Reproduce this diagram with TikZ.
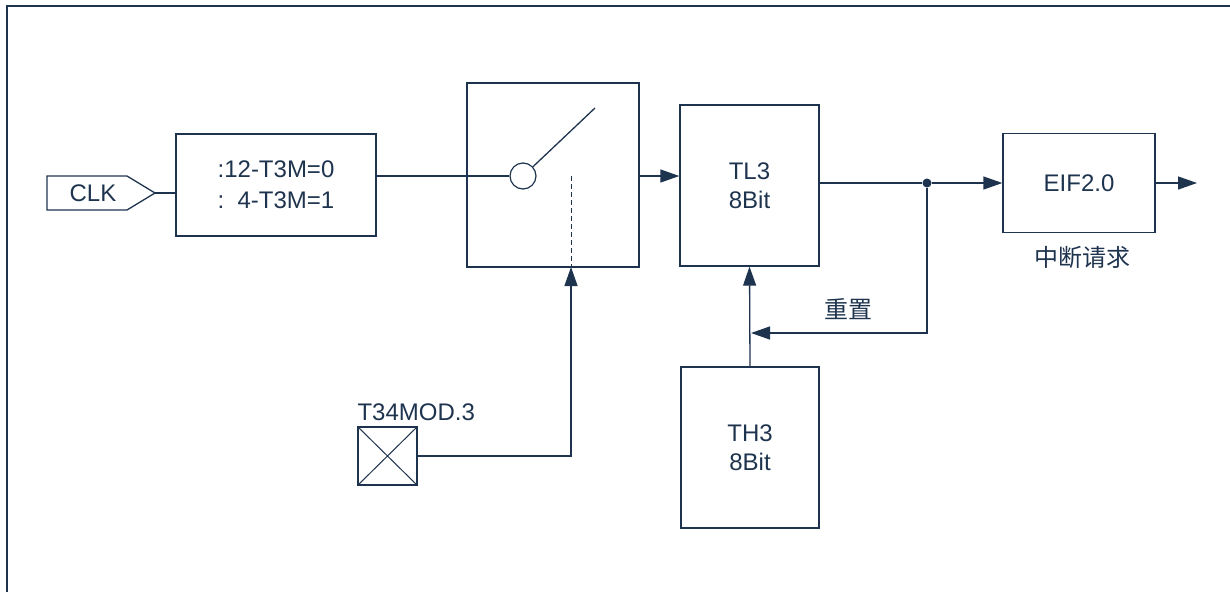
\documentclass[tikz,border=0pt]{standalone}
\usepackage{fontspec}
\setmainfont{Liberation Sans}
\newfontfamily\cjk{Noto Sans CJK SC}
\usetikzlibrary{arrows.meta}
\definecolor{ink}{RGB}{30,52,78}
\begin{document}
\begin{tikzpicture}[x=1pt,y=-1pt,
  every node/.style={text=ink,font=\fontsize{24pt}{29pt}\selectfont},
  box/.style={draw=ink,line width=1.3pt,rectangle,inner sep=0pt,align=center},
  wire/.style={draw=ink,line width=1.3pt},
  arr/.style={wire,-{Triangle[length=19pt,width=13pt]}}]
\useasboundingbox (0,0) rectangle (1230,592);
% frame
\draw[wire] (7,592) -- (7,6) -- (1230,6);
% CLK
\draw[wire] (47,176) -- (127,176) -- (155,193) -- (127,210) -- (47,210) -- cycle;
\node (clk) at (93,193) {CLK};
\coordinate (clktip) at (155,193);
% divider
\node[box,minimum width=200pt,minimum height=102pt,
      font=\fontsize{24pt}{31pt}\selectfont] (div) at (276,185)
      {:12-T3M=0\\:\ \ 4-T3M=1};
\draw[wire] (clktip) -- (clktip -| div.west);
% switch
\node[box,minimum width=172pt,minimum height=184pt] (sw) at (553,175) {};
\node[circle,draw=ink,line width=1.2pt,minimum size=26pt,inner sep=0pt] (circ) at (523,176) {};
\coordinate (swtip) at (595,108);
\coordinate (dtop) at (571,176);
\coordinate (ctl) at (571,267);
\draw[wire] (div.east |- circ.west) -- (circ.west);
\draw[wire] (circ.43) -- (swtip);
\draw[wire,line width=1pt,dashed,dash pattern=on 5pt off 3pt] (dtop) -- (ctl);
% TL3
\node[box,minimum width=139pt,minimum height=161pt] (tl3) at (749.5,185.5) {TL3\\8Bit};
\draw[arr] (sw.east |- circ.west) -- (circ.west -| tl3.west);
% EIF
\node[box,minimum width=152pt,minimum height=99pt] (eif) at (1079,183) {EIF2.0};
\node[font=\cjk\fontsize{24pt}{29pt}\selectfont] (irq) at (1082,257) {中断请求};
\node[circle,fill=ink,inner sep=0pt,minimum size=9pt] (junc) at (927,183) {};
\coordinate (out) at (1197,183);
\draw[wire] (tl3.east |- eif.west) -- (junc);
\draw[arr] (junc) -- (eif.west);
\draw[arr] (eif.east) -- (out);
% TH3
\node[box,minimum width=138pt,minimum height=161pt] (th3) at (750,447.5) {TH3\\8Bit};
\coordinate (rst) at (751,333);
\draw[arr] (th3.north) -- (tl3.south);
\draw[arr] (junc) |- (rst);
\node[font=\cjk\fontsize{24pt}{29pt}\selectfont] (rstlbl) at (848,309) {重置};
% T34MOD.3
\node[box,minimum width=59pt,minimum height=58pt] (t34) at (387.5,456) {};
\draw[wire,line width=1pt] (t34.north west) -- (t34.south east) (t34.north east) -- (t34.south west);
\node[anchor=base west,inner sep=0pt] (t34lbl) at ([yshift=6pt]t34.north west) {T34MOD.3};
\draw[arr] (t34.east) -| (ctl);
\end{tikzpicture}
\end{document}
